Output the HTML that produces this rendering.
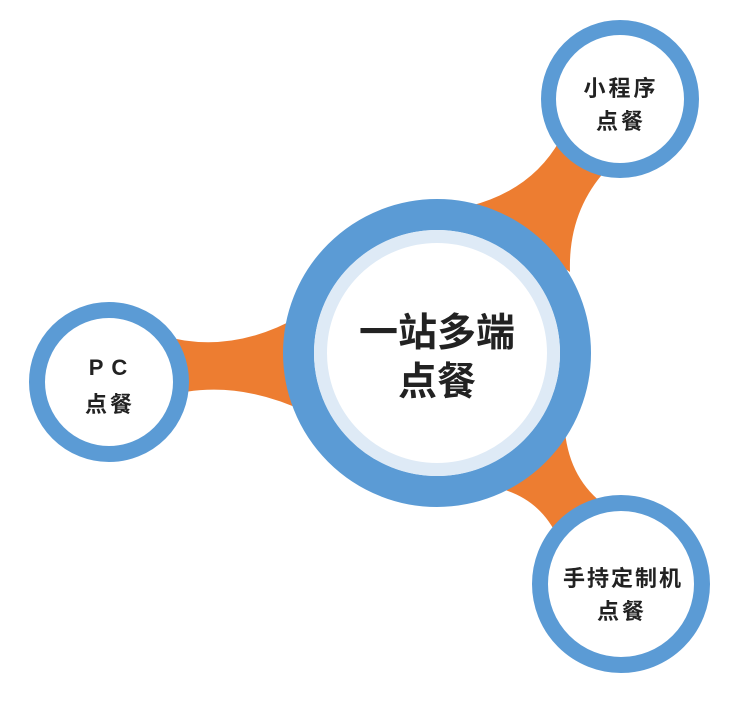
<!DOCTYPE html>
<html><head><meta charset="utf-8"><style>
html,body{margin:0;padding:0;background:#fff;}
svg{display:block}
text{font-family:"Liberation Sans","Noto Sans CJK SC",sans-serif;font-weight:bold;fill:#222;text-anchor:middle}
</style></head><body>
<svg width="744" height="709" viewBox="0 0 744 709" xmlns="http://www.w3.org/2000/svg">
<g fill="#ED7D31">
<path d="M160,335 Q230,356 300,316 L306,412 Q230,376 160,398 Z"/>
<path d="M470,206 Q532,190 560,140 L606,170 Q568,212 570,272 Z"/>
<path d="M505,490 Q542,502 558,538 L606,506 Q570,480 565,432 Z"/>
</g>
<circle cx="437" cy="353" r="138.5" fill="#fff" stroke="#5B9BD5" stroke-width="31"/>
<circle cx="437" cy="353" r="116.5" fill="#fff" stroke="#DEEAF6" stroke-width="13"/>
<circle cx="620" cy="99" r="71.5" fill="#fff" stroke="#5B9BD5" stroke-width="15"/>
<circle cx="109" cy="382" r="72" fill="#fff" stroke="#5B9BD5" stroke-width="16"/>
<circle cx="621" cy="584" r="81" fill="#fff" stroke="#5B9BD5" stroke-width="16"/>
<text x="437" y="346" font-size="39">一站多端</text>
<text x="437" y="395" font-size="39">点餐</text>
<text x="621" y="96" font-size="22" letter-spacing="3">小程序</text>
<text x="621" y="129" font-size="22" letter-spacing="3">点餐</text>
<text x="112" y="375" font-size="22" letter-spacing="8">PC</text>
<text x="110" y="412" font-size="22" letter-spacing="3">点餐</text>
<text x="623" y="586" font-size="22" letter-spacing="2">手持定制机</text>
<text x="622" y="619" font-size="22" letter-spacing="3">点餐</text>
</svg>
</body></html>
